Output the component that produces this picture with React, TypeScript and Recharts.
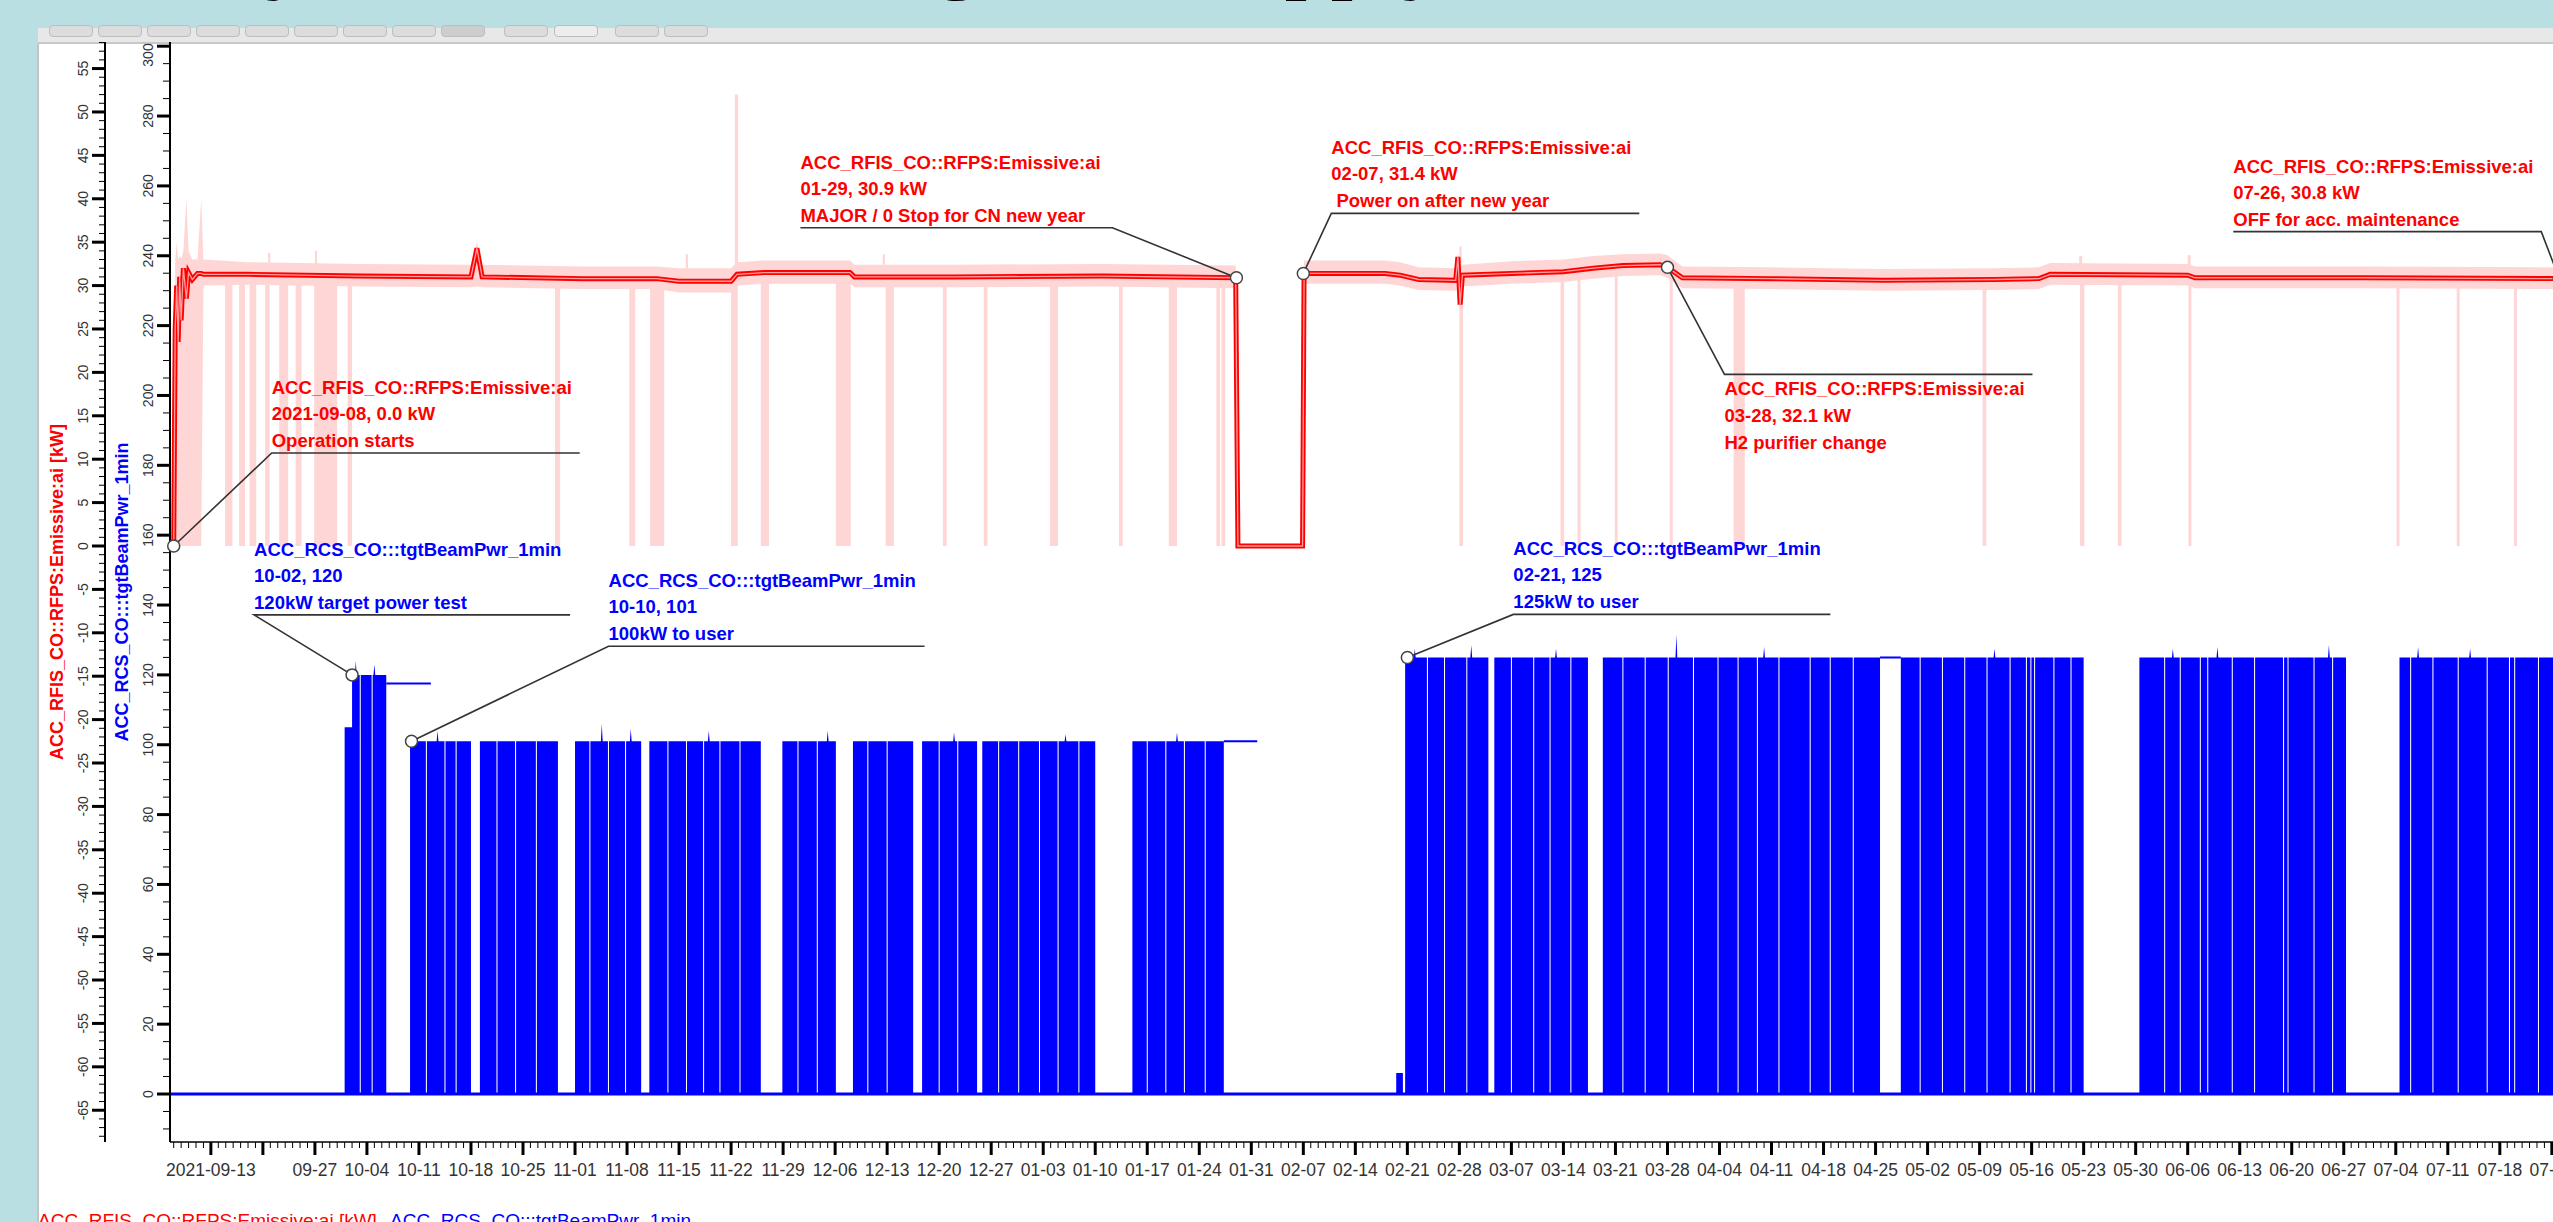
import React from 'react'
import {
  ComposedChart,
  Area,
  Line,
  XAxis,
  YAxis,
  Label,
  ReferenceArea,
  ReferenceDot,
  ReferenceLine,
} from 'recharts'

// time axis is in days counted from Monday 2021-09-13
const X_MIN = -5.5
const X_MAX = 320

const weekLabels = [
  '2021-09-13', '', '09-27', '10-04', '10-11', '10-18', '10-25', '11-01', '11-08', '11-15', '11-22',
  '11-29', '12-06', '12-13', '12-20', '12-27', '01-03', '01-10', '01-17', '01-24', '01-31', '02-07',
  '02-14', '02-21', '02-28', '03-07', '03-14', '03-21', '03-28', '04-04', '04-11', '04-18', '04-25',
  '05-02', '05-09', '05-16', '05-23', '05-30', '06-06', '06-13', '06-20', '06-27', '07-04', '07-11',
  '07-18', '07-25',
]
const redMajor = [-65, -60, -55, -50, -45, -40, -35, -30, -25, -20, -15, -10, -5, 0, 5, 10, 15, 20, 25, 30, 35, 40, 45, 50, 55]
const blueMajor = [0, 20, 40, 60, 80, 100, 120, 140, 160, 180, 200, 220, 240, 260, 280, 300]

// ion source emissive power [kW]: average and min/max band
const redDay = [-5, -4.8, -4.6, -4.4, -4.2, -4, -3.7, -3.3, -3, -2.5, -1.8, -1.3, -1, 5, 20, 35, 35.8, 36.5, 50, 60, 63, 70, 70.8, 74.5, 86, 86.6, 100, 120, 137.9, 138.2, 146.9, 147.1, 158, 160, 162.5, 167.5, 167.8, 168.1, 168.4, 175, 182, 186, 190, 195, 196, 198, 210, 225, 240, 246, 247.5, 266, 267, 290, 316, 320]
const redAvg = [0, 25, 30, 23.5, 31, 26, 32, 28.5, 31.5, 30.7, 31.4, 31.4, 31.3, 31.3, 31.1, 31.0, 34.3, 31.0, 30.8, 30.8, 30.5, 30.5, 31.3, 31.5, 31.5, 31.0, 31.0, 31.1, 30.9, 0, 0, 31.4, 31.4, 31.2, 30.7, 30.6, 33.3, 27.8, 31.2, 31.4, 31.6, 32.0, 32.3, 32.4, 32.1, 30.9, 30.8, 30.6, 30.7, 30.8, 31.3, 31.2, 30.9, 30.9, 30.8, 30.8]
const redLow = [0, 0, 0, 0, 0, 0, 0, 0, 0, 0, 0, 0, 30.0, 30.1, 29.9, 29.8, 29.9, 29.8, 29.6, 29.6, 29.2, 29.2, 30.0, 30.2, 30.2, 29.8, 29.8, 29.9, 29.7, 0, 0, 30.2, 30.2, 30.0, 29.5, 29.4, 29.4, 27.0, 29.9, 30.2, 30.4, 30.8, 31.1, 31.2, 30.9, 29.7, 29.6, 29.4, 29.5, 29.6, 30.1, 30.0, 29.7, 29.7, 29.6, 29.6]
const redHigh = [0, 33, 35, 33, 33.5, 33, 34, 40, 34, 33, 33, 40, 33, 32.7, 32.5, 32.4, 35, 32.4, 32.2, 32.2, 32.0, 32.0, 32.7, 32.9, 32.9, 32.4, 32.4, 32.5, 32.3, 0, 0, 32.9, 32.9, 32.7, 32.1, 32.0, 33.8, 32.0, 32.4, 32.8, 33.0, 33.4, 33.6, 33.7, 33.5, 32.2, 32.1, 31.9, 32.0, 32.1, 32.6, 32.5, 32.2, 32.2, 32.1, 32.1]

// short drops of the min trace to 0 kW
const dropFrom = [1.9, 3.8, 5.2, 7.3, 9.2, 11.4, 13.9, 18.4, 46.3, 56.3, 59.1, 70.0, 74.0, 84.1, 90.8, 98.5, 104.0, 112.9, 122.2, 128.9, 135.3, 136.0, 168.0, 181.6, 183.9, 188.9, 196.3, 204.9, 238.4, 251.5, 256.6, 266.1, 294.1, 302.2, 309.9]
const dropTo = [2.9, 4.6, 6.1, 7.9, 10.4, 12.2, 17.0, 19.0, 47.0, 57.1, 61.0, 70.9, 75.1, 86.1, 91.9, 99.0, 104.5, 114.0, 122.7, 130.0, 135.8, 136.5, 168.5, 182.1, 184.3, 189.3, 196.7, 206.4, 238.9, 252.1, 257.1, 266.5, 294.5, 302.6, 310.3]
const dropTop = 31.5
// short peaks of the max trace
const riseFrom = [7.7, 14.0, 63.9, 70.5, 90.4, 168.0, 251.4, 266.0]
const riseTo = [8.0, 14.3, 64.2, 70.95, 90.7, 168.3, 251.8, 266.4]
const risePeak = [33.8, 34, 33.6, 52, 33.6, 34.5, 33.4, 33.5]

// target beam power [kW]: runs with beam, thin interruptions, short peaks
const runFrom = [18.0, 19.0, 26.8, 36.2, 49.0, 59.0, 76.9, 86.4, 95.7, 103.8, 124.0, 159.5, 160.7, 172.7, 187.3, 227.4, 259.5, 294.5]
const runTo = [19.0, 23.6, 35.0, 46.7, 57.9, 74.0, 84.1, 94.5, 103.1, 119.0, 136.3, 160.4, 171.9, 185.3, 224.6, 252.0, 287.3, 320]
const runKw = [105, 120, 101, 101, 101, 101, 101, 101, 101, 101, 101, 6, 125, 125, 125, 125, 125, 125]
const tripDay = [20.1, 21.7, 29, 31.5, 33, 38.5, 41, 43.8, 51, 53.5, 55.8, 61.5, 64, 66.3, 68.5, 71.2, 79, 81.6, 88.4, 91, 98, 100.5, 106, 108.7, 111.5, 114, 116.8, 126, 128.5, 131, 133.8, 163.7, 166, 169, 175, 178, 180.2, 183, 190, 193, 196.1, 199.5, 202.8, 205.5, 208.1, 211, 215.2, 217.9, 221, 230, 233, 236, 239, 242.1, 244.3, 244.9, 245.4, 248, 250.3, 262.9, 265, 267.7, 268.7, 272, 275, 278.9, 279.5, 283, 285.5, 296, 299, 302.4, 306.3, 309.3, 310, 313.2, 316.5]
const peakDay = [19.5, 22, 30.5, 52.6, 56.5, 67, 83, 100, 115, 130, 162, 169.6, 181, 197.2, 209, 240, 264, 270, 285, 297, 304]
const peakKw = [124, 123, 104, 106, 104.5, 104, 104, 103.5, 103, 103.5, 127.5, 128.5, 127.5, 131.5, 128, 127.5, 127.5, 128, 128.5, 128, 127.5]
// stretches where the trace holds its last value
const holdFrom = [23.6, 136.3, 224.6]
const holdTo = [29.6, 140.8, 227.4]
const holdKw = [117.5, 101, 125]

// annotations
const noteDay = [-5, 138, 147, 196, 316, 19, 27, 161]
const noteKw = [0, 30.9, 31.4, 32.1, 30.8, 120, 101, 125]
const noteAxis = ['red', 'red', 'red', 'red', 'red', 'blue', 'blue', 'blue']
const noteText = [
  ['ACC_RFIS_CO::RFPS:Emissive:ai', '2021-09-08, 0.0 kW', 'Operation starts'],
  ['ACC_RFIS_CO::RFPS:Emissive:ai', '01-29, 30.9 kW', 'MAJOR / 0 Stop for CN new year'],
  ['ACC_RFIS_CO::RFPS:Emissive:ai', '02-07, 31.4 kW', ' Power on after new year'],
  ['ACC_RFIS_CO::RFPS:Emissive:ai', '03-28, 32.1 kW', 'H2 purifier change'],
  ['ACC_RFIS_CO::RFPS:Emissive:ai', '07-26, 30.8 kW', 'OFF for acc. maintenance'],
  ['ACC_RCS_CO:::tgtBeamPwr_1min', '10-02, 120', '120kW target power test'],
  ['ACC_RCS_CO:::tgtBeamPwr_1min', '10-10, 101', '100kW to user'],
  ['ACC_RCS_CO:::tgtBeamPwr_1min', '02-21, 125', '125kW to user'],
]
// where each leader ends relative to its dot, in px
const noteLayout = [
  { dx: 98, dy: -93, len: 308, side: 'left', below: false },
  { dx: -124, dy: -50, len: 312, side: 'right', below: false },
  { dx: 28, dy: -60, len: 308, side: 'left', below: false },
  { dx: 57, dy: 107, len: 308, side: 'left', below: true },
  { dx: -18, dy: -47, len: 308, side: 'right', below: false },
  { dx: -98, dy: -60, len: 316, side: 'left', below: false },
  { dx: 197, dy: -95, len: 316, side: 'left', below: false },
  { dx: 106, dy: -43, len: 317, side: 'left', below: false },
]

const RED = '#ff0000'
const BLUE = '#0000ff'
const PINK = '#ffd6d6'

const redPts = redDay.map((t, i) => ({ t, avg: redAvg[i], lo: redLow[i], hi: redHigh[i] }))

const GAP = 0.07
const PEAK = 0.12
function buildBeam() {
  const pts: { t: number; v: number }[] = [{ t: X_MIN, v: 0 }]
  runFrom.forEach((from, i) => {
    const to = runTo[i]
    const kw = runKw[i]
    pts.push({ t: from, v: 0 }, { t: from, v: kw })
    const events = [
      ...tripDay.filter((d) => d > from && d < to).map((d) => ({ d, peak: 0, trip: true })),
      ...peakDay.map((d, k) => ({ d, peak: peakKw[k], trip: false })).filter((e) => e.d > from && e.d < to),
    ].sort((a, b) => a.d - b.d)
    events.forEach((e) => {
      if (e.trip) {
        pts.push({ t: e.d - GAP, v: kw }, { t: e.d - GAP, v: 0 }, { t: e.d + GAP, v: 0 }, { t: e.d + GAP, v: kw })
      } else {
        pts.push({ t: e.d - PEAK, v: kw }, { t: e.d, v: e.peak }, { t: e.d + PEAK, v: kw })
      }
    })
    pts.push({ t: to, v: kw }, { t: to, v: 0 })
  })
  return pts
}
const beamPts = buildBeam()

const holdPts: { t: number; v: number | null }[] = []
holdFrom.forEach((from, i) => {
  holdPts.push({ t: from, v: holdKw[i] }, { t: holdTo[i], v: holdKw[i] }, { t: holdTo[i] + 0.01, v: null })
})

const dayTicks = Array.from({ length: 326 }, (_, i) => i - 5)
const redTicks = Array.from({ length: 127 }, (_, i) => i - 68)
const blueTicks = Array.from({ length: 63 }, (_, i) => i * 5 - 10)

function XTick(props: any) {
  const { x, y, payload } = props
  const d = payload.value
  const major = d % 7 === 0
  const label = major ? weekLabels[d / 7] : ''
  return (
    <g>
      <line x1={x} x2={x} y1={y} y2={y + (major ? 13 : 6)} stroke="#000" strokeWidth={major ? 3 : 1} />
      {label ? (
        <text x={x} y={y + 34} textAnchor="middle" fontSize={17.5} fill="#333">
          {label}
        </text>
      ) : null}
    </g>
  )
}

function makeYTick(majors: number[], minorLen: number) {
  return function YTick(props: any) {
    const { x, y, payload } = props
    const v = payload.value
    const major = majors.includes(v)
    const lx = x - 22
    // keep the topmost label inside the plot, as the original tool does
    const ly = Math.max(y, 13)
    return (
      <g>
        <line x1={x - (major ? 13 : minorLen)} x2={x} y1={y} y2={y} stroke="#000" strokeWidth={major ? 3 : 1} />
        {major ? (
          <text x={lx} y={ly} transform={`rotate(-90 ${lx} ${ly})`} textAnchor="middle" dominantBaseline="central" fontSize={14} fill="#333">
            {v}
          </text>
        ) : null}
      </g>
    )
  }
}
const RedTick = makeYTick(redMajor, 6)
const BlueTick = makeYTick(blueMajor, 7)

function axisTitle(text: string, color: string, dx: number) {
  return function Title(props: any) {
    const vb = props.viewBox || {}
    const cx = vb.x + dx
    const cy = vb.y + vb.height / 2
    return (
      <text x={cx} y={cy} transform={`rotate(-90 ${cx} ${cy})`} textAnchor="middle" dominantBaseline="central" fontSize={18} fontWeight="bold" fill={color}>
        {text}
      </text>
    )
  }
}

function noteShape(i: number) {
  return function Note(props: any) {
    const { cx, cy } = props
    const { dx, dy, len, side, below } = noteLayout[i]
    const ux = cx + dx
    const uy = cy + dy
    const left = side === 'left' ? ux : ux - len
    const far = side === 'left' ? ux + len : ux - len
    const color = noteAxis[i] === 'red' ? RED : BLUE
    const ys = below ? [uy + 21, uy + 48, uy + 75] : [uy - 59, uy - 33, uy - 6]
    return (
      <g>
        <polyline points={`${cx},${cy} ${ux},${uy} ${far},${uy}`} fill="none" stroke="#333" strokeWidth={1.6} />
        <circle cx={cx} cy={cy} r={6} fill="#fff" stroke="#444" strokeWidth={1.5} />
        {noteText[i].map((s, k) => (
          <text key={k} x={left} y={ys[k]} fontSize={18.5} fontWeight="bold" fill={color} style={{ whiteSpace: 'pre' }}>
            {s}
          </text>
        ))}
      </g>
    )
  }
}

const buttons = [49, 98, 147, 196, 245, 294, 343, 392, 441, 504, 554, 615, 664]

export default function App() {
  return (
    <div
      style={{
        position: 'relative',
        width: 2553,
        height: 1222,
        overflow: 'hidden',
        background: '#b9dfe2',
        fontFamily: '"Liberation Sans", Arial, sans-serif',
      }}
    >
      <style>{'html,body{margin:0;overflow:hidden}'}</style>
      <div
        style={{
          position: 'absolute',
          left: -642,
          top: -95,
          fontFamily: '"Liberation Serif", serif',
          fontSize: 92,
          lineHeight: '92px',
          whiteSpace: 'nowrap',
          color: '#000',
        }}
      >
        RF ion source availability to assure the long-term supply
      </div>
      {/* toolbar strip */}
      <div style={{ position: 'absolute', left: 38, top: 28, right: 0, height: 14, background: '#e8e8e8', borderBottom: '2px solid #c8c8c8' }} />
      {buttons.map((bx, i) => (
        <div
          key={bx}
          style={{
            position: 'absolute',
            left: bx,
            top: 25,
            width: 42,
            height: 10,
            borderRadius: 4,
            border: '1px solid #bdbdbd',
            background: i === 8 ? '#cdcdcd' : i === 10 ? '#ededed' : '#dcdcdc',
          }}
        />
      ))}
      <div style={{ position: 'absolute', left: 37, top: 44, right: 0, bottom: 0, background: '#fff', borderLeft: '2px solid #c4c4c4' }} />
      <div style={{ position: 'absolute', left: 38, top: 42, width: 2515, height: 1180, overflow: 'hidden' }}>
        <ComposedChart width={2551} height={1180} margin={{ top: 0, right: 0, bottom: 0, left: 0 }}>
          <XAxis
            type="number"
            dataKey="t"
            domain={[X_MIN, X_MAX]}
            allowDataOverflow
            ticks={dayTicks}
            interval={0}
            tick={<XTick />}
            tickLine={false}
            tickSize={0}
            tickMargin={0}
            axisLine={{ stroke: '#000', strokeWidth: 1.5 }}
            height={80}
          />
          <YAxis
            yAxisId="blue"
            type="number"
            width={65}
            domain={[-13.74, 301.2]}
            allowDataOverflow
            ticks={blueTicks}
            interval={0}
            tick={<BlueTick />}
            tickLine={false}
            tickSize={0}
            tickMargin={0}
            axisLine={{ stroke: '#000', strokeWidth: 2 }}
          >
            <Label content={axisTitle('ACC_RCS_CO:::tgtBeamPwr_1min', BLUE, 17)} />
          </YAxis>
          <YAxis
            yAxisId="red"
            type="number"
            width={67}
            domain={[-68.66, 58.06]}
            allowDataOverflow
            ticks={redTicks}
            interval={0}
            tick={<RedTick />}
            tickLine={false}
            tickSize={0}
            tickMargin={0}
            axisLine={{ stroke: '#000', strokeWidth: 2 }}
          >
            <Label content={axisTitle('ACC_RFIS_CO::RFPS:Emissive:ai [kW]', RED, 19)} />
          </YAxis>

          {dropFrom.map((d, i) => (
            <ReferenceArea key={'d' + i} yAxisId="red" x1={d} x2={dropTo[i]} y1={0} y2={dropTop} fill={PINK} fillOpacity={1} stroke="none" />
          ))}
          {riseFrom.map((d, i) => (
            <ReferenceArea key={'r' + i} yAxisId="red" x1={d} x2={riseTo[i]} y1={dropTop} y2={risePeak[i]} fill={PINK} fillOpacity={1} stroke="none" />
          ))}
          <Area
            data={redPts}
            dataKey={(p: any) => [p.lo, p.hi]}
            yAxisId="red"
            type="linear"
            stroke="none"
            fill={PINK}
            fillOpacity={1}
            isAnimationActive={false}
          />
          <Area
            data={beamPts}
            dataKey="v"
            yAxisId="blue"
            type="linear"
            stroke="none"
            fill={BLUE}
            fillOpacity={1}
            baseValue={0}
            isAnimationActive={false}
          />
          <ReferenceLine yAxisId="blue" y={0} stroke={BLUE} strokeWidth={3} />
          <Line data={holdPts} dataKey="v" yAxisId="blue" type="linear" stroke={BLUE} strokeWidth={2} dot={false} activeDot={false} isAnimationActive={false} />
          <Line data={redPts} dataKey="avg" yAxisId="red" type="linear" stroke={RED} strokeWidth={5} dot={false} activeDot={false} isAnimationActive={false} />
          <Line data={redPts} dataKey="avg" yAxisId="red" type="linear" stroke="#ff9c9c" strokeWidth={1.3} dot={false} activeDot={false} isAnimationActive={false} />
          {noteDay.map((d, i) => (
            <ReferenceDot key={'n' + i} x={d} y={noteKw[i]} yAxisId={noteAxis[i]} r={6} shape={noteShape(i)} ifOverflow="visible" />
          ))}
        </ComposedChart>
      </div>
      <div style={{ position: 'absolute', left: 38, top: 1211, fontSize: 19, lineHeight: '19px', whiteSpace: 'nowrap' }}>
        <span style={{ color: RED }}>ACC_RFIS_CO::RFPS:Emissive:ai [kW]</span>
        <span style={{ color: BLUE, marginLeft: 9 }}> ACC_RCS_CO:::tgtBeamPwr_1min</span>
      </div>
    </div>
  )
}
